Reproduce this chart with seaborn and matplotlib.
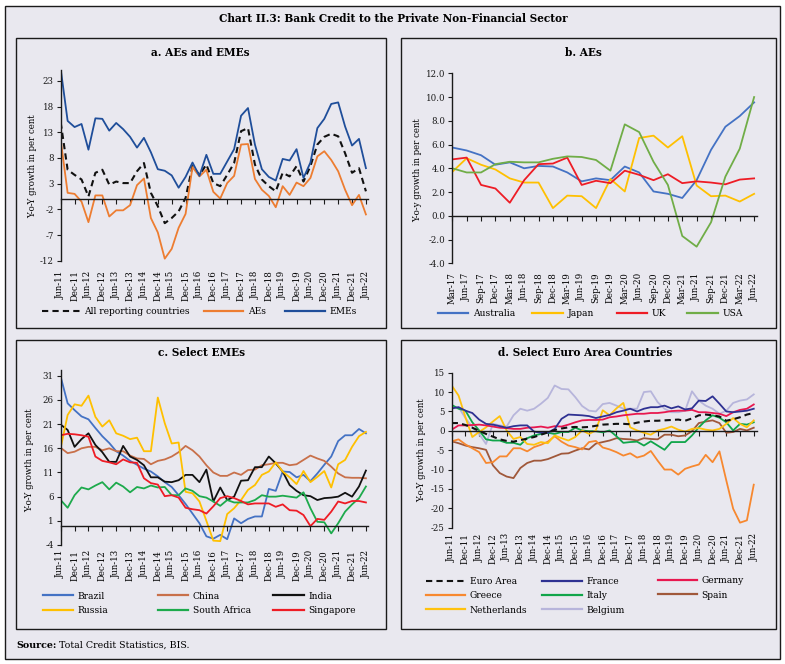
import matplotlib
matplotlib.use("Agg")
import matplotlib.pyplot as plt
import seaborn as sns
import numpy as np
from matplotlib.patches import Rectangle
from matplotlib.lines import Line2D

# ---------------- DATA ----------------
ticks_q = ["Jun-11", "Dec-11", "Jun-12", "Dec-12", "Jun-13", "Dec-13", "Jun-14", "Dec-14",
           "Jun-15", "Dec-15", "Jun-16", "Dec-16", "Jun-17", "Dec-17", "Jun-18", "Dec-18",
           "Jun-19", "Dec-19", "Jun-20", "Dec-20", "Jun-21", "Dec-21", "Jun-22"]
ticks_b = ["Mar-17", "Jun-17", "Sep-17", "Dec-17", "Mar-18", "Jun-18", "Sep-18", "Dec-18",
           "Mar-19", "Jun-19", "Sep-19", "Dec-19", "Mar-20", "Jun-20", "Sep-20", "Dec-20",
           "Mar-21", "Jun-21", "Sep-21", "Dec-21", "Mar-22", "Jun-22"]

# Panel a: AEs and EMEs (quarterly, Jun-11 .. Jun-22)
all_reporting = [14.9, 5.7, 4.7, 3.8, 0.5, 5.1, 5.7, 2.8, 3.4, 3.1, 3.1, 5.4, 7.0, 1.2, -1.4,
                 -4.7, -3.7, -2.4, 0.2, 6.4, 4.7, 6.7, 3.1, 2.5, 4.7, 7.0, 13.2, 13.8, 6.7, 3.8,
                 2.5, 1.5, 5.1, 4.4, 6.4, 3.4, 6.4, 10.6, 12.1, 12.7, 12.2, 8.9, 5.1, 6.0, 1.5]
aes = [11.5, 1.2, 1.0, -0.5, -4.5, 0.7, 0.7, -3.4, -2.2, -2.2, -1.2, 2.7, 4.0, -3.7, -6.5,
       -11.6, -9.7, -5.6, -2.9, 6.2, 4.4, 5.7, 1.4, 0.1, 3.1, 4.5, 10.6, 10.7, 3.9, 1.8,
       0.6, -1.6, 2.5, 0.8, 3.2, 2.5, 4.1, 8.3, 9.3, 7.6, 5.4, 1.8, -1.2, 0.8, -3.0]
emes = [25.3, 15.2, 14.0, 14.6, 9.6, 15.7, 15.6, 13.3, 14.8, 13.6, 12.1, 10.0, 11.9, 9.1, 5.8,
        5.5, 4.6, 2.2, 4.3, 7.1, 4.5, 8.6, 4.9, 4.9, 7.3, 9.7, 16.2, 17.7, 10.6, 5.8,
        4.3, 3.6, 7.8, 7.5, 9.7, 4.1, 7.1, 13.8, 15.6, 18.5, 18.8, 14.1, 10.4, 11.7, 6.0]

# Panel b: AEs (quarterly, Mar-17 .. Jun-22)
australia = [5.75, 5.5, 5.1, 4.3, 4.5, 4.0, 4.2, 4.15, 3.65, 2.9, 3.15, 3.0, 4.15, 3.65, 2.05,
             1.85, 1.5, 3.0, 5.55, 7.5, 8.4, 9.55]
japan = [3.7, 4.85, 4.3, 3.9, 3.15, 2.8, 2.8, 0.65, 1.7, 1.65, 0.65, 3.1, 2.05, 6.55, 6.75,
         5.75, 6.7, 2.55, 1.65, 1.7, 1.2, 1.85]
uk = [4.75, 4.9, 2.6, 2.3, 1.1, 3.0, 4.35, 4.4, 4.9, 2.6, 2.95, 2.75, 3.8, 3.45, 3.0, 3.5,
      2.75, 2.9, 2.8, 2.65, 3.05, 3.15]
usa = [4.0, 3.65, 3.65, 4.35, 4.55, 4.5, 4.5, 4.8, 5.0, 4.95, 4.7, 3.8, 7.7, 7.05, 4.55, 2.6,
       -1.7, -2.6, -0.55, 3.3, 5.65, 10.0]

# Panel c: Select EMEs
brazil = [30.8, 25.3, 23.9, 22.6, 22.0, 20.2, 18.5, 17.1, 15.4, 14.5, 13.4, 12.6, 11.8, 11.2,
          10.2, 9.0, 8.0, 6.3, 4.5, 2.5, 0.5, -2.2, -2.7, -1.9, -2.8, 1.5, 0.5, 1.4, 1.9, 1.9,
          7.6, 7.2, 11.2, 11.1, 10.0, 10.5, 9.2, 10.8, 12.6, 14.3, 17.5, 18.7, 18.7, 20.0, 19.1]
china = [16.1, 15.0, 15.3, 16.0, 16.3, 16.3, 15.6, 16.0, 15.4, 15.4, 14.5, 13.9, 13.8, 12.7,
         13.4, 13.7, 14.3, 15.2, 16.5, 15.6, 14.3, 12.5, 11.0, 10.3, 10.3, 11.0, 10.5, 11.5,
         11.6, 12.5, 12.7, 13.0, 13.0, 12.5, 12.7, 13.6, 14.5, 13.9, 13.4, 12.2, 10.8, 10.0,
         9.9, 9.9, 9.8]
india = [20.9, 19.8, 16.3, 17.9, 19.1, 16.7, 15.2, 13.2, 13.2, 16.5, 14.3, 13.6, 12.5, 10.0,
         10.0, 9.1, 9.0, 9.4, 10.5, 10.5, 9.0, 11.6, 5.0, 7.9, 5.3, 6.0, 9.3, 9.4, 12.1, 12.1,
         14.3, 12.9, 11.2, 8.4, 7.2, 6.3, 6.1, 5.3, 5.7, 5.8, 6.0, 6.8, 6.0, 8.1, 11.4]
russia = [16.1, 22.9, 25.1, 24.8, 26.9, 22.5, 20.5, 21.8, 19.1, 18.6, 17.9, 18.2, 15.4, 15.4,
          26.5, 21.2, 17.0, 17.2, 7.0, 6.7, 5.0, 1.0, -3.1, -3.2, 2.4, 3.6, 5.3, 7.4, 8.4,
          10.5, 11.2, 13.1, 11.2, 10.0, 8.6, 11.3, 9.0, 10.1, 11.3, 7.9, 12.7, 13.6, 16.3,
          18.5, 19.4]
south_africa = [5.3, 3.7, 6.3, 7.9, 7.5, 8.3, 9.0, 7.5, 8.9, 8.1, 6.9, 8.0, 7.7, 8.3, 7.9, 8.0,
                6.3, 6.3, 7.7, 7.2, 6.1, 5.8, 5.0, 4.1, 5.3, 4.8, 4.8, 4.8, 5.3, 6.3, 6.0, 6.0,
                6.2, 6.0, 5.8, 6.9, 3.6, 0.8, 0.7, -1.6, 0.5, 2.9, 4.4, 5.7, 8.1]
singapore = [18.7, 19.0, 18.9, 18.7, 18.4, 14.3, 13.4, 13.1, 12.7, 13.7, 13.1, 13.0, 9.8, 8.8,
             8.5, 6.1, 6.3, 5.8, 3.7, 3.4, 3.2, 2.5, 4.0, 5.7, 6.1, 5.7, 5.1, 4.4, 4.6, 4.6,
             4.6, 3.9, 4.4, 3.2, 3.1, 2.2, -0.1, 1.4, 1.2, 2.9, 5.0, 4.6, 5.1, 5.1, 4.8]

# Panel d: Select Euro Area countries
euro_area = [2.0, 2.0, 1.5, 0.8, 0.0, -0.8, -1.5, -2.2, -2.6, -2.8, -2.4, -2.0, -1.6, -1.0,
             -0.4, 0.2, 0.6, 0.9, 1.0, 0.9, 1.0, 1.3, 1.6, 1.7, 1.8, 1.8, 1.7, 2.1, 2.4, 2.6,
             2.6, 2.7, 2.8, 2.9, 2.6, 3.2, 4.0, 4.2, 4.0, 3.7, 2.6, 3.0, 3.5, 4.2, 4.6]
france = [5.8, 6.1, 5.2, 4.6, 2.9, 1.8, 1.6, 1.2, 0.8, 1.2, 1.4, 1.4, -0.2, -0.5, -0.5, 0.5,
          3.1, 4.2, 4.1, 4.0, 3.8, 3.3, 3.7, 4.1, 4.8, 5.2, 5.7, 5.0, 5.7, 6.1, 6.1, 6.5, 5.8,
          6.3, 5.5, 5.8, 7.8, 7.7, 8.9, 7.0, 5.0, 4.8, 5.0, 5.2, 5.7]
germany = [0.3, 1.4, 1.4, 1.5, 1.6, 1.4, 1.1, 0.8, 0.7, 0.5, 0.5, 0.8, 0.9, 1.1, 0.8, 1.2, 1.1,
           1.6, 2.2, 2.7, 2.8, 2.8, 2.9, 3.5, 3.7, 4.0, 4.2, 4.4, 4.4, 4.6, 4.6, 4.8, 5.1, 5.2,
           5.2, 5.4, 4.8, 4.8, 4.6, 4.4, 3.8, 4.8, 5.4, 5.7, 6.8]
greece = [-2.7, -2.2, -3.5, -4.5, -5.5, -8.3, -8.1, -6.6, -6.6, -4.5, -4.5, -5.3, -4.2, -3.6,
          -2.8, -1.4, -2.8, -3.8, -4.2, -4.8, -2.9, -2.6, -4.3, -4.8, -5.5, -6.4, -5.8, -6.9,
          -6.4, -5.2, -7.7, -10.0, -10.0, -11.3, -9.8, -9.2, -8.7, -6.2, -8.1, -5.3, -12.8,
          -20.1, -23.7, -23.1, -13.9]
italy = [6.7, 5.7, 5.2, 2.2, 0.1, -2.2, -2.5, -2.5, -3.1, -3.1, -3.6, -1.9, -1.2, -0.8, -0.5,
         -0.8, -0.3, -0.3, 0.8, 0.1, -0.1, -0.1, -0.4, 0.1, -1.4, -3.1, -2.9, -2.8, -3.8, -2.7,
         -3.8, -4.9, -2.9, -2.9, -2.9, -1.2, 0.9, 2.7, 4.0, 3.4, 2.2, 0.1, 1.8, 1.6, 2.2]
spain = [-2.7, -3.2, -3.8, -4.2, -4.5, -4.9, -8.9, -10.9, -11.8, -12.2, -9.6, -8.3, -7.7, -7.7,
         -7.3, -6.6, -5.9, -5.8, -5.1, -4.5, -4.8, -3.3, -2.9, -2.5, -1.9, -2.1, -2.2, -2.5,
         -1.9, -2.1, -2.2, -1.0, -1.0, -1.4, -1.2, -0.1, 2.0, 2.4, 2.7, 2.0, -0.5, -0.3, 0.5,
         0.1, 0.8]
netherlands = [11.7, 9.1, 3.5, -1.6, -0.3, 0.9, 2.4, 3.8, 0.1, -2.1, -1.6, -3.4, -3.6, -2.9,
               -3.2, -1.2, -1.9, -2.5, -1.6, 0.1, -0.8, 0.1, 5.3, 4.0, 5.8, 7.2, 0.9, 0.1, -0.5,
               -1.0, 0.1, 0.5, 1.1, 0.3, -0.2, 0.5, 0.7, 0.3, 0.1, 0.5, 1.8, 3.3, 1.8, 0.9, 2.7]
belgium = [5.7, 6.1, 3.3, 0.9, -0.8, -3.4, 1.8, 1.4, 1.1, 4.0, 5.7, 5.2, 5.7, 7.0, 8.5, 11.7,
           10.8, 10.7, 8.7, 6.4, 5.2, 5.0, 6.9, 7.2, 6.5, 5.7, 5.7, 5.7, 10.0, 10.2, 7.4, 5.7,
           4.8, 4.8, 5.2, 10.2, 7.8, 6.5, 5.7, 4.4, 5.2, 7.2, 7.8, 8.1, 9.4]

# ---------------- STYLE ----------------
W, H = 785, 664
BG = "#E9E8EF"
EDGE = "#1a1a1a"
plt.rcParams['font.family'] = ['DejaVu Serif', 'DejaVu Sans']
plt.rcParams['axes.linewidth'] = 1.0
TICK_FS = 6.2
LEG_FS = 6.6
LW = 1.3
DASH = (0, (3, 2))

fig = plt.figure(figsize=(W / 100, H / 100), dpi=100, facecolor='white')


def fx(px):
    return px / W


def fy(py):
    return 1 - py / H


def box(l, t, r, b, face='none', z=-5):
    fig.add_artist(Rectangle((fx(l), fy(b)), fx(r) - fx(l), fy(t) - fy(b),
                             transform=fig.transFigure, facecolor=face,
                             edgecolor=EDGE, lw=1.0, zorder=z))


box(5, 6, 780, 659, face=BG, z=-10)
for rect in [(16, 38, 386, 328), (401, 38, 776, 328), (16, 340, 386, 629), (401, 340, 776, 629)]:
    box(*rect)


def make_ax(l, t, r, b):
    ax = fig.add_axes([fx(l), fy(b), fx(r) - fx(l), fy(t) - fy(b)])
    ax.patch.set_visible(False)
    return ax


def style_axis(ax, xlim, ylim, yticks, yfmt, xticks, xlabels, lab_pad):
    ax.set_xlim(*xlim)
    ax.set_ylim(*ylim)
    for s in ['top', 'right']:
        ax.spines[s].set_visible(False)
    ax.spines['bottom'].set_position(('data', 0))
    ax.spines['left'].set_color(EDGE)
    ax.spines['bottom'].set_color(EDGE)
    ax.set_yticks(yticks)
    ax.set_yticklabels([yfmt.format(v) for v in yticks], fontsize=TICK_FS)
    ax.tick_params(axis='y', direction='out', length=3, width=0.8, pad=2, colors=EDGE)
    ax.set_xticks(xticks)
    ax.tick_params(axis='x', direction='out', length=3.5, width=0.8, labelbottom=False, colors=EDGE)
    sec = ax.secondary_xaxis('bottom')
    sec.set_xticks(xticks)
    sec.set_xticklabels(xlabels, rotation=90, fontsize=TICK_FS)
    sec.tick_params(length=0, pad=lab_pad)
    sec.spines['bottom'].set_visible(False)
    ax.set_xlabel('')
    ax.set_ylabel('')


def draw(ax, x, y, color, dashed=False):
    sns.lineplot(x=x, y=y, ax=ax, color=color, linewidth=LW)
    ln = ax.lines[-1]
    if dashed:
        ln.set_linestyle(DASH)
        ln.set_linewidth(1.5)
    ln.set_solid_joinstyle('round')


def legend_col(entries, x_handle, y_center, handle_px, spacing=0.55):
    fs_px = LEG_FS * 100 / 72
    handles = [Line2D([], [], color=c, lw=(1.5 if d else 1.6), ls=(DASH if d else '-'))
               for (_, c, d) in entries]
    labels = [e[0] for e in entries]
    leg = fig.legend(handles, labels, loc='center left',
                     bbox_to_anchor=(fx(x_handle), fy(y_center)),
                     bbox_transform=fig.transFigure, frameon=False, fontsize=LEG_FS,
                     handlelength=handle_px / fs_px, handletextpad=4.5 / fs_px,
                     borderpad=0, borderaxespad=0, labelspacing=spacing)
    return leg


xq = np.arange(len(emes))
xq_ticks = np.arange(0, len(emes), 2)
xb = np.arange(len(australia))

# ---------------- PANEL A ----------------
ax_a = make_ax(60.7, 69.5, 368, 260.7)
C_AES = "#ED7D31"
C_EMES = "#1F4E9A"
draw(ax_a, xq, all_reporting, "#111111", dashed=True)
draw(ax_a, xq, aes, C_AES)
draw(ax_a, xq, emes, C_EMES)
style_axis(ax_a, (0, 44.3), (-12, 25.2), [-12, -7, -2, 3, 8, 13, 18, 23], "{:d}",
           xq_ticks, ticks_q, 7.0)
fig.text(fx(200), fy(52), "a. AEs and EMEs", ha='center', va='center', fontsize=7.6,
         fontweight='bold')
fig.text(fx(33), fy(166), "Y-o-Y growth in per cent", rotation=90, ha='center', va='center',
         fontsize=TICK_FS)
legend_col([("All reporting countries", "#111111", True)], 41.7, 311.7, 38.3)
legend_col([("AEs", C_AES, False)], 204, 311.7, 39.3)
legend_col([("EMEs", C_EMES, False)], 285, 311.7, 40)

# ---------------- PANEL B ----------------
ax_b = make_ax(452.3, 73.3, 757, 263.3)
C_AUS, C_JPN, C_UK, C_USA = "#4472C4", "#FFC000", "#EE1C25", "#70AD47"
draw(ax_b, xb, australia, C_AUS)
draw(ax_b, xb, japan, C_JPN)
draw(ax_b, xb, uk, C_UK)
draw(ax_b, xb, usa, C_USA)
style_axis(ax_b, (0, 21.2), (-4, 12), [-4, -2, 0, 2, 4, 6, 8, 10, 12], "{:.1f}",
           xb, ticks_b, 6.6)
fig.text(fx(583), fy(52), "b. AEs", ha='center', va='center', fontsize=7.6, fontweight='bold')
fig.text(fx(418), fy(170), "Y-o-y growth in per cent", rotation=90, ha='center', va='center',
         fontsize=TICK_FS)
legend_col([("Australia", C_AUS, False)], 437.7, 314, 30.6)
legend_col([("Japan", C_JPN, False)], 532.3, 314, 31)
legend_col([("UK", C_UK, False)], 616.7, 314, 30.6)
legend_col([("USA", C_USA, False)], 687, 314, 30.7)

# ---------------- PANEL C ----------------
ax_c = make_ax(60.7, 370, 368, 545)
C_BRA, C_CHN, C_IND = "#4472C4", "#C8704A", "#111111"
C_RUS, C_ZAF, C_SGP = "#FFC000", "#1DAA4C", "#EE1C25"
draw(ax_c, xq, brazil, C_BRA)
draw(ax_c, xq, china, C_CHN)
draw(ax_c, xq, india, C_IND)
draw(ax_c, xq, russia, C_RUS)
draw(ax_c, xq, south_africa, C_ZAF)
draw(ax_c, xq, singapore, C_SGP)
style_axis(ax_c, (0, 44.3), (-4, 32.2), [-4, 1, 6, 11, 16, 21, 26, 31], "{:d}",
           xq_ticks, ticks_q, 3.6)
fig.text(fx(201), fy(353), "c. Select EMEs", ha='center', va='center', fontsize=7.6,
         fontweight='bold')
fig.text(fx(30), fy(460), "Y-o-Y growth in per cent", rotation=90, ha='center', va='center',
         fontsize=TICK_FS)
legend_col([("Brazil", C_BRA, False), ("Russia", C_RUS, False)], 42.7, 603.2, 30.6)
legend_col([("China", C_CHN, False), ("South Africa", C_ZAF, False)], 157.7, 603.2, 30.6)
legend_col([("India", C_IND, False), ("Singapore", C_SGP, False)], 273.3, 603.2, 30.7)

# ---------------- PANEL D ----------------
ax_d = make_ax(451.7, 372.7, 756.5, 527.7)
C_EA, C_FRA, C_DEU = "#111111", "#2E3192", "#E8184F"
C_GRC, C_ITA, C_ESP = "#F7882F", "#10A54A", "#A0583A"
C_NLD, C_BEL = "#FFC20E", "#B7B5DB"
draw(ax_d, xq, belgium, C_BEL)
draw(ax_d, xq, spain, C_ESP)
draw(ax_d, xq, italy, C_ITA)
draw(ax_d, xq, greece, C_GRC)
draw(ax_d, xq, netherlands, C_NLD)
draw(ax_d, xq, germany, C_DEU)
draw(ax_d, xq, france, C_FRA)
draw(ax_d, xq, euro_area, C_EA, dashed=True)
style_axis(ax_d, (0, 44.4), (-25, 15), [-25, -20, -15, -10, -5, 0, 5, 10, 15], "{:d}",
           xq_ticks, ticks_q, 4.0)
fig.text(fx(585), fy(353), "d. Select Euro Area Countries", ha='center', va='center',
         fontsize=7.6, fontweight='bold')
fig.text(fx(422), fy(450), "Y-o-Y growth in per cent", rotation=90, ha='center', va='center',
         fontsize=TICK_FS)
legend_col([("Euro Area", C_EA, True), ("Greece", C_GRC, False), ("Netherlands", C_NLD, False)],
           425.7, 596, 39.3)
legend_col([("France", C_FRA, False), ("Italy", C_ITA, False), ("Belgium", C_BEL, False)],
           542.3, 596, 39.4)
legend_col([("Germany", C_DEU, False), ("Spain", C_ESP, False)], 657.7, 588, 39)

# ---------------- TITLE & SOURCE ----------------
fig.text(fx(393), fy(18), "Chart II.3: Bank Credit to the Private Non-Financial Sector",
         ha='center', va='center', fontsize=7.6, fontweight='bold')
t_src = fig.text(fx(16), fy(645), "Source:", ha='left', va='center', fontsize=6.8,
                 fontweight='bold')
ax_a.annotate(" Total Credit Statistics, BIS.", xy=(1, 0), xycoords=t_src, ha='left',
              va='bottom', fontsize=6.8, annotation_clip=False)

fig.savefig("out.png", dpi=100, facecolor='white')
